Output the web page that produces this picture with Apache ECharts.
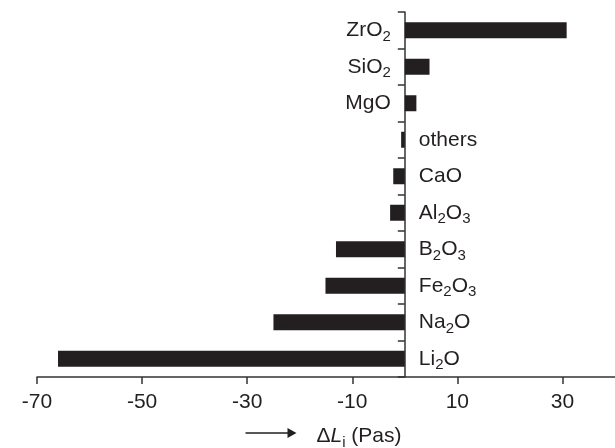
<!DOCTYPE html>
<html>
<head>
<meta charset="utf-8">
<script src="https://cdn.jsdelivr.net/npm/echarts@6/dist/echarts.min.js"></script>
<style>html,body{margin:0;padding:0;background:#fff}#c{width:615px;height:448px}</style>
</head>
<body>
<div id="c"></div>
<script>
var categories = ['Li2O','Na2O','Fe2O3','B2O3','Al2O3','CaO','others','MgO','SiO2','ZrO2'];
var values = [-66.0, -25.0, -15.1, -13.1, -2.8, -2.2, -0.7, 2.2, 4.7, 30.8];
var xTicks = [-70, -50, -30, -10, 10, 30];

var ink = '#231f20';
var FONT = 'Liberation Sans, Arial, sans-serif';
var chart = echarts.init(document.getElementById('c'), null, {renderer: 'canvas'});

function sub(name) { return ('{m|' + name.replace(/(\d)/g, '}{s|$1}{m|') + '}').replace(/\{m\|\}/g, ''); }

var subStyle = {fontSize: 15, lineHeight: 10, verticalAlign: 'top', padding: [11, 0, 0, 0], color: ink, fontFamily: FONT};

var data = values.map(function (v, i) {
  return {
    value: v,
    label: {
      show: true,
      position: v >= 0 ? 'left' : 'right',
      distance: 14,
      formatter: sub(categories[i])
    }
  };
});

chart.setOption({
  animation: false,
  grid: {left: 37, right: 0, top: 12, bottom: 71, containLabel: false, outerBoundsMode: 'none'},
  xAxis: {
    type: 'value', min: -70, max: 40,
    splitLine: {show: false},
    axisLine: {show: true, lineStyle: {color: '#333', width: 1.5}},
    axisTick: {show: true, length: 7, customValues: xTicks, lineStyle: {color: '#333', width: 1.5}},
    axisLabel: {customValues: xTicks, margin: 15, fontSize: 21, color: ink, fontFamily: FONT},
    name: '{m|\u0394}{it|L}{s|i}{m| (Pas)}',
    nameLocation: 'middle',
    nameGap: 47,
    nameTextStyle: {
      fontSize: 21, color: ink, fontFamily: FONT,
      padding: [0, 0, 0, 66],
      rich: {
        m: {fontSize: 21, lineHeight: 24, color: ink, fontFamily: FONT},
        it: {fontSize: 21, lineHeight: 24, fontStyle: 'italic', color: ink, fontFamily: FONT},
        s: subStyle
      }
    }
  },
  yAxis: {
    type: 'category', data: categories,
    axisLine: {show: true, onZero: true, lineStyle: {color: '#333', width: 1.5}},
    axisTick: {show: true, length: 7, lineStyle: {color: '#333', width: 1.5}},
    axisLabel: {show: false},
    splitLine: {show: false}
  },
  graphic: [{
    type: 'group', left: 243, top: 428,
    children: [
      {type: 'line', shape: {x1: 0, y1: 5, x2: 44, y2: 5}, style: {stroke: ink, lineWidth: 1.5}},
      {type: 'polygon', shape: {points: [[42, 0], [51, 5], [42, 10]]}, style: {fill: ink}}
    ]
  }],
  series: [{
    type: 'bar',
    data: data,
    barWidth: 16,
    itemStyle: {color: ink},
    label: {
      color: ink, fontSize: 21, fontFamily: FONT,
      rich: {
        m: {fontSize: 21, lineHeight: 24, color: ink, fontFamily: FONT},
        s: subStyle
      }
    }
  }]
});
</script>
</body>
</html>
